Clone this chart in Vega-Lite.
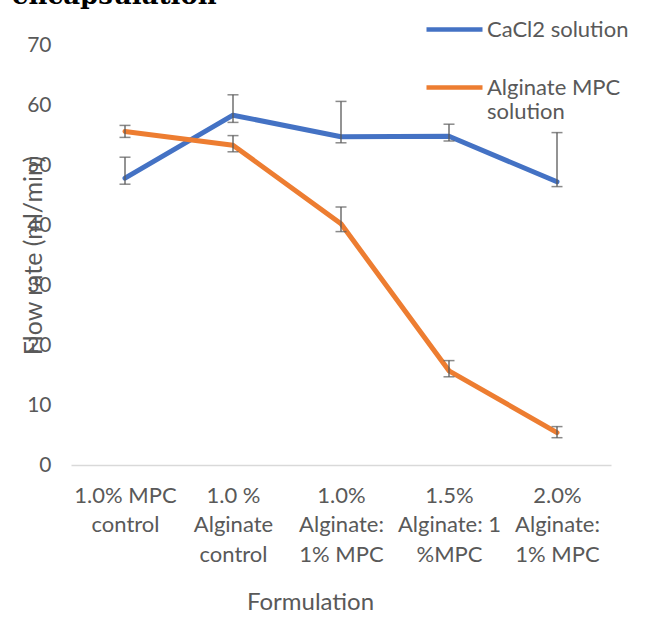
{
  "$schema": "https://vega.github.io/schema/vega-lite/v6.json",
  "width": 540,
  "height": 420,
  "autosize": {"type": "none"},
  "padding": {"left": 71, "top": 45, "right": 35, "bottom": 169},
  "background": "white",
  "title": {
    "text": "encapsulation",
    "anchor": "start",
    "frame": "group",
    "font": "DejaVu Serif",
    "fontSize": 26,
    "fontWeight": "bold",
    "color": "black",
    "baseline": "alphabetic",
    "offset": -31,
    "dx": -59
  },
  "data": {
    "values": [
      {"series": "CaCl2 solution", "formulation": "1.0% MPC control", "value": 47.8, "lo": 46.8, "hi": 51.3},
      {"series": "CaCl2 solution", "formulation": "1.0 % Alginate control", "value": 58.3, "lo": 57.1, "hi": 61.7},
      {"series": "CaCl2 solution", "formulation": "1.0% Alginate: 1% MPC", "value": 54.7, "lo": 53.7, "hi": 60.6},
      {"series": "CaCl2 solution", "formulation": "1.5% Alginate: 1 %MPC", "value": 54.8, "lo": 54.0, "hi": 56.8},
      {"series": "CaCl2 solution", "formulation": "2.0% Alginate: 1% MPC", "value": 47.2, "lo": 46.4, "hi": 55.4},
      {"series": "Alginate MPC solution", "formulation": "1.0% MPC control", "value": 55.6, "lo": 54.6, "hi": 56.6},
      {"series": "Alginate MPC solution", "formulation": "1.0 % Alginate control", "value": 53.3, "lo": 52.2, "hi": 54.9},
      {"series": "Alginate MPC solution", "formulation": "1.0% Alginate: 1% MPC", "value": 40.2, "lo": 38.9, "hi": 43.0},
      {"series": "Alginate MPC solution", "formulation": "1.5% Alginate: 1 %MPC", "value": 15.7, "lo": 14.7, "hi": 17.4},
      {"series": "Alginate MPC solution", "formulation": "2.0% Alginate: 1% MPC", "value": 5.4, "lo": 4.55, "hi": 6.4}
    ]
  },
  "encoding": {
    "x": {
      "field": "formulation",
      "type": "nominal",
      "sort": null,
      "scale": {"type": "point", "padding": 0.5},
      "axis": {
        "title": "Formulation",
        "titleX": 239,
        "titleY": 137,
        "titleAlign": "center",
        "titleBaseline": "middle",
        "titleFont": "Lato",
        "titleFontSize": 24,
        "titleFontWeight": "normal",
        "titleColor": "#595959",
        "labelAngle": 0,
        "labelFont": "Lato",
        "labelFontSize": 22,
        "labelColor": "#595959",
        "labelLineHeight": 29.5,
        "labelPadding": 20,
        "labelLimit": 0,
        "labelExpr": "datum.label == '1.0% MPC control' ? ['1.0% MPC', 'control'] : datum.label == '1.0 % Alginate control' ? ['1.0 %', 'Alginate', 'control'] : datum.label == '1.0% Alginate: 1% MPC' ? ['1.0%', 'Alginate:', '1% MPC'] : datum.label == '1.5% Alginate: 1 %MPC' ? ['1.5%', 'Alginate: 1', '%MPC'] : ['2.0%', 'Alginate:', '1% MPC']",
        "ticks": false,
        "domainColor": "#d9d9d9",
        "domainWidth": 1.5,
        "grid": false
      }
    }
  },
  "layer": [
    {
      "mark": {"type": "line", "strokeWidth": 5, "strokeCap": "round", "strokeJoin": "round"},
      "encoding": {
        "y": {
          "field": "value",
          "type": "quantitative",
          "scale": {"domain": [0, 70], "nice": false},
          "axis": {
            "title": "Flow rate (ml/min)",
            "titleX": -38,
            "titleY": 210,
            "titleAngle": 270,
            "titleAlign": "center",
            "titleBaseline": "middle",
            "titleFont": "Lato",
            "titleFontSize": 25,
            "titleFontWeight": "normal",
            "titleColor": "#595959",
            "values": [0, 10, 20, 30, 40, 50, 60, 70],
            "labelFont": "Lato",
            "labelFontSize": 21,
            "labelColor": "#595959",
            "labelPadding": 20,
            "ticks": false,
            "domain": false,
            "grid": false
          }
        },
        "color": {
          "field": "series",
          "type": "nominal",
          "scale": {"domain": ["CaCl2 solution", "Alginate MPC solution"], "range": ["#4472C4", "#ED7D31"]},
          "legend": {
            "orient": "none",
            "legendX": 353,
            "legendY": -46,
            "direction": "vertical",
            "title": null,
            "padding": 0,
            "symbolType": "stroke",
            "symbolSize": 3136,
            "symbolStrokeWidth": 4.5,
            "labelFont": "Lato",
            "labelFontSize": 22,
            "labelColor": "#595959",
            "labelOffset": 2,
            "labelLimit": 0,
            "labelBaseline": "middle",
            "rowPadding": 16,
            "labelExpr": "datum.label == 'Alginate MPC solution' ? ['Alginate MPC', 'solution'] : datum.label"
          }
        }
      }
    },
    {
      "mark": {"type": "rule", "color": "#595959", "strokeWidth": 1.3},
      "encoding": {
        "y": {"field": "lo", "type": "quantitative"},
        "y2": {"field": "hi"}
      }
    },
    {
      "mark": {"type": "tick", "color": "#595959", "size": 11, "thickness": 1.5},
      "encoding": {"y": {"field": "lo", "type": "quantitative"}}
    },
    {
      "mark": {"type": "tick", "color": "#595959", "size": 11, "thickness": 1.5},
      "encoding": {"y": {"field": "hi", "type": "quantitative"}}
    }
  ],
  "config": {"view": {"stroke": null}}
}
